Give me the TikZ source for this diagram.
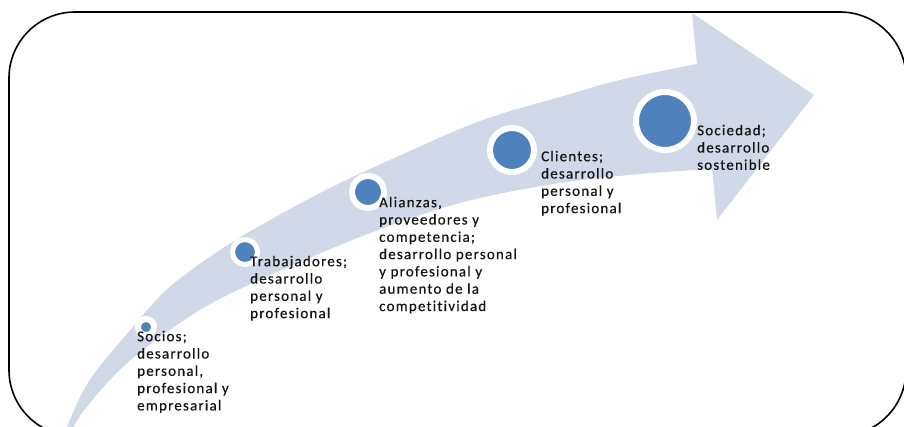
\documentclass[tikz,border=0pt]{standalone}
\usepackage{fontspec}
\setmainfont{Carlito}[LetterSpace=8, Ligatures=NoCommon, FakeBold=0.4]
\definecolor{band}{RGB}{209,217,232}
\definecolor{dotblue}{RGB}{79,129,189}
\definecolor{txt}{RGB}{20,20,20}
\begin{document}
\begin{tikzpicture}[x=1pt,y=-1pt,
  dot/.style 2 args={circle, inner sep=0pt, fill=dotblue, draw=white, line width=#2, minimum size=#1},
  lbl/.style={anchor=north west, inner sep=0pt, align=left, text=txt, font=\fontsize{15}{17.3}\selectfont}]
\useasboundingbox (0,0) rectangle (904,426);
\clip (0,0) rectangle (904,426);
% frame
\draw[line width=1.6pt, rounded corners=66pt] (9,12) rectangle (906,436);
% curved arrow
\fill[band] (64,434)
  -- plot[smooth, tension=0.6] coordinates {(64,434) (82,393) (100,366) (127,334) (150,307) (173,284) (220,250) (270,220) (330,188) (390,160) (480,121) (560,97) (620,80) (697,64)}
  -- (692,13) -- (814,95) -- (717,220) -- (712,169)
  -- plot[smooth, tension=0.6] coordinates {(712,169) (640,174) (560,183) (480,198) (420,215) (360,237) (300,262) (240,289) (200,310) (160,337) (125,365) (100,391) (80,416) (70,434)}
  -- cycle;
% dots
\node[dot={16pt}{6pt}] (d1) at (146,327) {};
\node[dot={25pt}{5pt}] (d2) at (245,252) {};
\node[dot={32pt}{6pt}] (d3) at (368,192) {};
\node[dot={44pt}{6pt}] (d4) at (512,150) {};
\node[dot={58pt}{6pt}] (d5) at (665,121) {};
% labels (north = first baseline - 12.1)
\node[lbl] (t1) at (137,328.9) {\strut Socios;\\desarrollo\\personal,\\profesional y\\empresarial};
\node[lbl] (t2) at (250,253.9) {\strut Trabajadores;\\desarrollo\\personal y\\profesional};
\node[lbl] (t3) at (379,194.9) {\strut Alianzas,\\proveedores y\\competencia;\\desarrollo personal\\y profesional y\\aumento de la\\competitividad};
\node[lbl] (t4) at (541,148.9) {\strut Clientes;\\desarrollo\\personal y\\profesional};
\node[lbl] (t5) at (697,122.9) {\strut Sociedad;\\desarrollo\\sostenible};
\end{tikzpicture}
\end{document}
